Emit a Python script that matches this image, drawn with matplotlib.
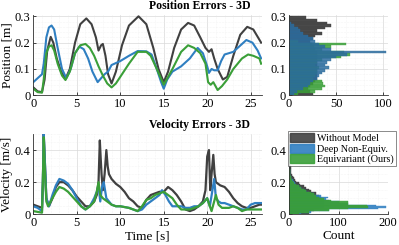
import matplotlib
matplotlib.use("Agg")
import matplotlib.pyplot as plt
import numpy as np
from matplotlib.patches import Patch
from matplotlib.ticker import MultipleLocator

plt.rcParams['font.family'] = ['Liberation Serif', 'DejaVu Serif']

labels = ["Without Model", "Deep Non-Equiv.", "Equivariant (Ours)"]
colors = ["#404040", "#2f7fc1", "#3a9f38"]
hist_blue_pos = "#2c6c9e"

# ---- Position errors (time series) ----
t_pos_gray = [0,0.5,1.0,1.3,1.6,2.0,2.3,2.7,3.2,3.7,4.2,4.8,5.4,6.1,6.7,7.2,7.5,7.8,8.0,8.3,8.6,9.0,9.5,10.2,11.0,12.1,13.0,13.8,14.4,15.0,15.5,16.2,17.0,17.8,18.5,19.2,19.8,20.2,20.5,20.8,21.2,21.8,22.3,23.0,23.8,24.6,25.3,26.2]
v_pos_gray = [0.03,0.015,0.012,0.06,0.17,0.222,0.2,0.14,0.09,0.062,0.1,0.2,0.27,0.292,0.27,0.22,0.17,0.19,0.195,0.15,0.08,0.045,0.09,0.19,0.265,0.30,0.27,0.18,0.1,0.05,0.09,0.18,0.25,0.275,0.265,0.22,0.18,0.165,0.175,0.14,0.1,0.06,0.07,0.15,0.23,0.26,0.25,0.2]

t_pos_blue = [0,0.5,1.0,1.2,1.5,1.8,2.1,2.4,2.8,3.3,3.8,4.3,4.8,5.3,5.8,6.3,6.8,7.4,7.8,8.2,8.6,9.0,10.0,11.0,12.0,13.0,13.6,14.2,14.7,15.0,15.4,16.0,17.0,18.0,18.9,19.5,20.0,20.2,20.5,20.8,21.2,21.6,22.0,23.0,24.0,24.5,25.2,25.8,26.2]
v_pos_blue = [0.05,0.065,0.08,0.12,0.22,0.258,0.265,0.25,0.18,0.1,0.065,0.1,0.16,0.185,0.175,0.14,0.09,0.05,0.065,0.08,0.09,0.115,0.13,0.15,0.168,0.167,0.155,0.1,0.05,0.025,0.06,0.09,0.11,0.14,0.18,0.16,0.11,0.085,0.1,0.095,0.095,0.13,0.155,0.165,0.195,0.21,0.2,0.17,0.14]

t_pos_green = [0,0.5,1.0,1.2,1.5,1.8,2.1,2.4,2.8,3.3,3.7,4.2,4.8,5.4,6.0,6.5,7.0,7.5,8.0,8.5,9.0,9.5,10.0,11.0,12.0,13.0,13.5,14.2,15.0,15.5,16.0,17.0,17.8,18.5,19.2,19.8,20.1,20.4,20.7,21.2,21.7,22.3,23.0,24.0,24.7,25.3,26.0,26.2]
v_pos_green = [0.025,0.012,0.01,0.06,0.16,0.185,0.19,0.17,0.12,0.075,0.058,0.09,0.16,0.19,0.195,0.18,0.15,0.11,0.075,0.045,0.03,0.045,0.07,0.12,0.165,0.165,0.15,0.1,0.04,0.07,0.1,0.165,0.19,0.18,0.16,0.12,0.05,0.04,0.05,0.02,0.035,0.06,0.1,0.14,0.155,0.15,0.14,0.12]

# ---- Velocity errors (time series) ----
t_vel_gray = [0,0.5,1.0,1.1,1.2,1.35,1.5,1.8,2.2,2.6,3.0,3.5,4.0,4.5,5.0,5.5,6.0,6.5,7.0,7.3,7.5,7.65,7.75,7.85,8.0,8.2,8.4,8.55,8.7,9.0,9.5,10.0,10.5,11.0,11.5,12.0,12.5,13.0,13.5,14.0,14.5,15.0,15.5,16.0,16.5,17.0,17.5,18.0,18.5,19.0,19.5,19.8,20.0,20.2,20.35,20.5,20.7,20.85,21.0,21.5,22.0,22.5,23.0,23.5,24.0,24.5,25.0,25.5,26.0,26.2]
v_vel_gray = [0.06,0.05,0.04,0.2,0.5,0.3,0.1,0.05,0.1,0.17,0.2,0.2,0.18,0.15,0.11,0.08,0.05,0.05,0.08,0.12,0.2,0.46,0.35,0.25,0.15,0.25,0.4,0.3,0.25,0.22,0.19,0.17,0.14,0.1,0.08,0.05,0.04,0.09,0.12,0.13,0.14,0.14,0.17,0.15,0.12,0.08,0.03,0.02,0.03,0.05,0.08,0.15,0.36,0.4,0.15,0.25,0.37,0.25,0.2,0.18,0.17,0.14,0.1,0.07,0.05,0.04,0.04,0.05,0.06,0.06]

t_vel_blue = [0,0.5,1.0,1.1,1.2,1.35,1.5,1.8,2.2,2.6,3.0,3.5,4.0,4.5,5.0,5.5,6.0,6.5,7.0,7.3,7.5,7.7,7.9,8.1,8.4,8.7,9.0,9.5,10.0,10.5,11.0,11.5,12.0,12.5,13.0,13.5,14.0,14.5,14.8,15.2,15.6,16.0,16.5,17.0,17.5,18.0,18.5,19.0,19.5,20.0,20.3,20.6,20.8,21.0,21.3,21.6,22.0,22.5,23.0,23.5,24.0,24.5,25.0,25.5,26.0,26.2]
v_vel_blue = [0.05,0.04,0.02,0.2,0.5,0.3,0.1,0.05,0.12,0.18,0.22,0.21,0.19,0.15,0.1,0.05,0.03,0.05,0.1,0.14,0.18,0.08,0.17,0.2,0.1,0.08,0.06,0.05,0.05,0.045,0.04,0.03,0.02,0.03,0.06,0.08,0.1,0.12,0.15,0.12,0.08,0.05,0.05,0.05,0.04,0.04,0.05,0.05,0.07,0.1,0.05,0.15,0.22,0.1,0.08,0.07,0.07,0.06,0.05,0.04,0.03,0.03,0.06,0.07,0.07,0.07]

t_vel_green = [0,0.5,1.0,1.1,1.2,1.35,1.5,1.7,2.2,2.6,3.0,3.5,4.0,4.5,5.0,5.5,6.0,6.5,7.0,7.3,7.5,7.7,8.0,8.5,9.0,9.5,10.0,11.0,12.0,12.5,13.0,13.5,14.0,14.5,15.0,15.5,16.0,16.5,17.0,17.5,18.0,19.0,19.5,20.0,20.3,20.5,20.8,21.0,21.3,21.7,22.0,22.5,23.0,23.5,24.0,24.5,25.0,25.5,26.0,26.2]
v_vel_green = [0.02,0.015,0.01,0.2,0.48,0.25,0.08,0.05,0.1,0.14,0.17,0.16,0.14,0.11,0.08,0.05,0.03,0.05,0.08,0.14,0.2,0.12,0.1,0.08,0.06,0.05,0.05,0.04,0.02,0.05,0.09,0.1,0.12,0.13,0.14,0.12,0.1,0.06,0.03,0.03,0.03,0.05,0.07,0.1,0.05,0.02,0.08,0.12,0.06,0.04,0.04,0.04,0.05,0.04,0.02,0.03,0.03,0.03,0.03,0.03]

# ---- Histogram counts ----
pos_bin_edges = [round(0.01 * i, 2) for i in range(31)]
pos_hist_gray = [25,22,20,22,25,28,30,30,30,30,30,30,30,30,30,30,30,28,26,24,22,25,28,35,30,38,45,40,30,18]
pos_hist_blue = [5,8,15,20,22,25,30,32,35,38,42,38,40,45,50,62,103,45,38,32,28,25,20,15,12,10,5,2,0,0]
pos_hist_green = [10,28,35,38,36,35,25,28,30,30,32,28,30,35,55,65,58,35,45,60,10,0,0,0,0,0,0,0,0,0]

vel_bin_edges = [round(0.01 * i, 2) for i in range(51)]
vel_hist_gray = [40,30,50,60,70,80,70,70,70,65,65,60,55,55,45,40,35,30,22,20,15,12,10,8,6,
                 5,5,4,4,4,3,3,3,3,3,3,3,3,3,3,3,3,3,3,2,2,2,2,2,2]
vel_hist_blue = [25,45,80,180,195,175,120,100,80,75,78,65,50,40,35,30,25,20,15,12,10,8,5,4,3,
                 2,2,2,1,1,1,1,1,1,1,1,1,1,1,1,1,0,0,0,0,0,0,0,0,0]
vel_hist_green = [20,40,80,120,160,158,120,120,85,70,60,55,50,45,35,30,25,20,15,10,8,6,5,4,3,
                  2,2,2,1,1,1,1,1,1,1,1,1,1,1,1,1,1,0,0,0,0,0,0,0,0]

W, H = 399, 245
fig = plt.figure(figsize=(W / 100, H / 100), dpi=100)

def px_axes(l, t, r, b):
    return fig.add_axes([l / W, 1 - b / H, (r - l) / W, (b - t) / H])

ax_p = px_axes(33.3, 15, 262, 95.3)
ax_ph = px_axes(289, 15, 388, 95.3)
ax_v = px_axes(33.3, 134, 262, 214.3)
ax_vh = px_axes(289, 134, 388, 214.3)

tick_fs = 9
grid_major = dict(color="#d9d9d9", linewidth=0.5, linestyle="-")
grid_minor = dict(color="#ececec", linewidth=0.4, linestyle=":")

def style(ax):
    for s in ["top", "right"]:
        ax.spines[s].set_visible(False)
    for s in ["left", "bottom"]:
        ax.spines[s].set_linewidth(0.6)
        ax.spines[s].set_color("#333333")
    ax.tick_params(labelsize=tick_fs, length=2, width=0.5, pad=2, direction="in")
    ax.tick_params(which="minor", length=0)
    ax.grid(True, which="major", **grid_major)
    ax.grid(True, which="minor", **grid_minor)
    ax.set_axisbelow(True)

# Position time series
for tt, vv, c in zip([t_pos_gray, t_pos_blue, t_pos_green],
                     [v_pos_gray, v_pos_blue, v_pos_green], colors):
    ax_p.plot(tt, vv, color=c, lw=1.5)
ax_p.set_xlim(0, 26.3)
ax_p.set_ylim(0, 0.305)
ax_p.set_xticks([0, 5, 10, 15, 20, 25])
ax_p.set_yticks([0, 0.1, 0.2, 0.3])
ax_p.set_yticklabels(["0", "0.1", "0.2", "0.3"])
ax_p.xaxis.set_minor_locator(MultipleLocator(1))
ax_p.yaxis.set_minor_locator(MultipleLocator(0.02))
ax_p.set_ylabel("Position [m]", fontsize=9.5, labelpad=1)
style(ax_p)

# Velocity time series
for tt, vv, c in zip([t_vel_gray, t_vel_blue, t_vel_green],
                     [v_vel_gray, v_vel_blue, v_vel_green], colors):
    ax_v.plot(tt, vv, color=c, lw=1.6)
ax_v.set_xlim(0, 26.3)
ax_v.set_ylim(0, 0.5)
ax_v.set_xticks([0, 5, 10, 15, 20, 25])
ax_v.set_yticks([0, 0.2, 0.4])
ax_v.set_yticklabels(["0", "0.2", "0.4"])
ax_v.xaxis.set_minor_locator(MultipleLocator(1))
ax_v.yaxis.set_minor_locator(MultipleLocator(0.05))
ax_v.set_ylabel("Velocity [m/s]", fontsize=9.5, labelpad=1)
ax_v.set_xlabel("Time [s]", fontsize=9.5, labelpad=1)
style(ax_v)

# Histograms
def hbars(ax, edges, counts, color, alpha):
    e = np.array(edges)
    ax.barh(e[:-1], counts, height=np.diff(e), align="edge", color=color,
            alpha=alpha, edgecolor=color, linewidth=0.3)

# position histogram: blue drawn over green
for cnt, c, a in zip([pos_hist_gray, pos_hist_green, pos_hist_blue],
                     [colors[0], colors[2], hist_blue_pos], [0.95, 0.85, 0.85]):
    hbars(ax_ph, pos_bin_edges, cnt, c, a)
ax_ph.set_xlim(0, 105)
ax_ph.set_ylim(0, 0.305)
ax_ph.set_xticks([0, 50, 100])
ax_ph.set_yticks([0, 0.1, 0.2, 0.3])
ax_ph.set_yticklabels(["0", "0.1", "0.2", "0.3"])
ax_ph.xaxis.set_minor_locator(MultipleLocator(10))
ax_ph.yaxis.set_minor_locator(MultipleLocator(0.02))
style(ax_ph)

# velocity histogram: green drawn over blue
for cnt, c, a in zip([vel_hist_gray, vel_hist_blue, vel_hist_green],
                     colors, [0.95, 0.85, 0.9]):
    hbars(ax_vh, vel_bin_edges, cnt, c, a)
ax_vh.set_xlim(0, 200)
ax_vh.set_ylim(0, 0.5)
ax_vh.set_xticks([0, 100, 200])
ax_vh.set_yticks([0, 0.2, 0.4])
ax_vh.set_yticklabels(["0", "0.2", "0.4"])
ax_vh.xaxis.set_minor_locator(MultipleLocator(20))
ax_vh.yaxis.set_minor_locator(MultipleLocator(0.05))
ax_vh.set_xlabel("Count", fontsize=9.5, labelpad=1)
style(ax_vh)

# Titles
fig.text(0.5, 1 - 6 / H, "Position Errors - 3D", ha="center", va="center",
         fontsize=8.5, fontweight="bold")
fig.text(0.5, 1 - 125 / H, "Velocity Errors - 3D", ha="center", va="center",
         fontsize=8.5, fontweight="bold")

handles = [Patch(facecolor=c, edgecolor=c, alpha=0.9) for c in colors]
leg = fig.legend(handles, labels, loc="upper right",
                 bbox_to_anchor=(396 / W, 1 - 131 / H), fontsize=7.3,
                 frameon=True, fancybox=False, edgecolor="#333333",
                 handlelength=2.4, handleheight=1.0, handletextpad=0.3,
                 borderpad=0.2, labelspacing=0.05, borderaxespad=0)
leg.get_frame().set_linewidth(0.5)

fig.savefig("out.png", dpi=100)
